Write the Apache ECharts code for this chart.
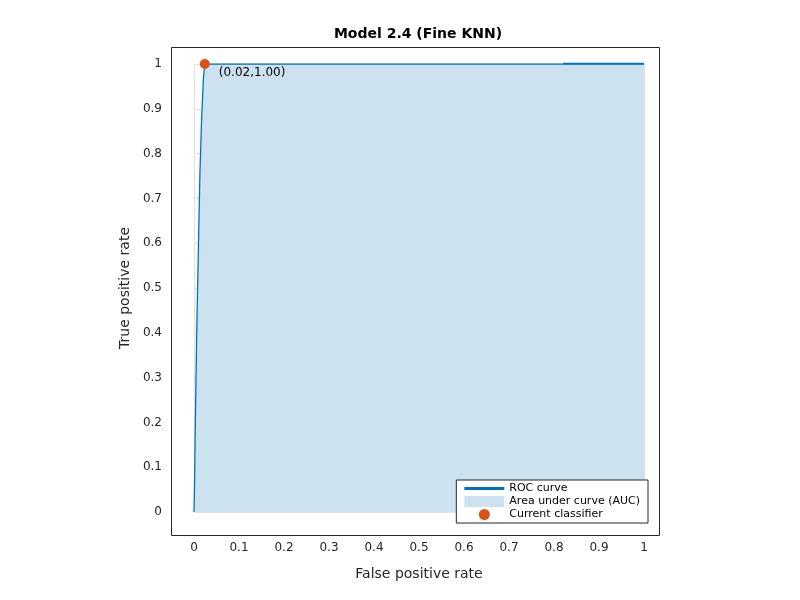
<!DOCTYPE html>
<html>
<head>
<meta charset="utf-8">
<script src="https://cdn.jsdelivr.net/npm/echarts@6/dist/echarts.min.js"></script>
<style>html,body{margin:0;padding:0;background:#fff}#main{width:800px;height:600px}</style>
</head>
<body>
<div id="main"></div>
<script>
var rocX = [0, 0.001, 0.003, 0.006, 0.01, 0.013, 0.017, 0.021, 0.024, 0.3, 0.6, 0.82, 1];
var rocY = [0, 0.05, 0.2, 0.4, 0.6, 0.75, 0.88, 0.97, 1, 1, 1, 1, 1];
var thickX = [0.82, 1];
var thickY = [1.002, 1.002];
var current = [0.024, 1.0];
var ticks = [0, 0.1, 0.2, 0.3, 0.4, 0.5, 0.6, 0.7, 0.8, 0.9, 1];

var pts = rocX.map(function (x, i) { return [x, rocY[i]]; });
var thick = thickX.map(function (x, i) { return [x, thickY[i]]; });

var chart = echarts.init(document.getElementById('main'));
chart.setOption({
    animation: false,
    textStyle: {fontFamily: 'DejaVu Sans'},
    title: {text: 'Model 2.4 (Fine KNN)', left: 413, top: 22, textAlign: 'center',
        textStyle: {fontSize: 14, fontWeight: 'bold', color: '#000'}},
    grid: {left: 194, right: 156, top: 64, bottom: 88},
    xAxis: {type: 'value', min: 0, max: 1, interval: 0.1,
        name: 'False positive rate', nameLocation: 'middle', nameGap: 55,
        nameTextStyle: {fontSize: 14, color: '#262626'},
        axisLine: {show: false}, axisTick: {show: false},
        splitLine: {lineStyle: {color: '#e0e0e0'}},
        axisLabel: {color: '#262626', fontSize: 12, margin: 30}},
    yAxis: {type: 'value', min: 0, max: 1, interval: 0.1,
        name: 'True positive rate', nameLocation: 'middle', nameGap: 62,
        nameTextStyle: {fontSize: 14, color: '#262626'},
        axisLine: {show: false}, axisTick: {show: false},
        splitLine: {lineStyle: {color: '#e0e0e0'}},
        axisLabel: {color: '#262626', fontSize: 12, margin: 32}},
    legend: {orient: 'vertical', right: 152, bottom: 77, backgroundColor: '#fff',
        borderColor: '#262626', borderWidth: 1, borderRadius: 0, padding: [3, 8], itemGap: 2,
        itemWidth: 40, itemHeight: 11,
        textStyle: {fontSize: 11, color: '#000'},
        data: [
            {name: 'ROC curve', icon: 'path://M0,4H40V7H0Z'},
            {name: 'Area under curve (AUC)', icon: 'rect'},
            {name: 'Current classifier', icon: 'circle'}
        ]},
    series: [
        {name: 'Area under curve (AUC)', type: 'line', data: pts, symbol: 'none',
            lineStyle: {width: 0}, itemStyle: {color: '#cce2f0'},
            areaStyle: {color: '#cce2f0', opacity: 1}, z: 1},
        {name: 'ROC curve', type: 'line', data: pts, symbol: 'none',
            lineStyle: {width: 1.3, color: '#0072bd'}, itemStyle: {color: '#0072bd'}, z: 3},
        {name: 'thick', type: 'line', data: thick, symbol: 'none',
            lineStyle: {width: 2.5, color: '#0072bd'}, z: 3},
        {name: 'Current classifier', type: 'scatter', data: [current], symbolSize: 10,
            itemStyle: {color: '#d95319', opacity: 1}, z: 5,
            label: {show: true, position: 'right', offset: [4, 9], fontSize: 12, color: '#000',
                formatter: function (p) { return '(' + p.value[0].toFixed(2) + ',' + p.value[1].toFixed(2) + ')'; }}}
    ],
    graphic: [
        {type: 'rect', left: 169, top: 45, shape: {width: 488, height: 488},
            style: {fill: 'none', stroke: '#262626', lineWidth: 1}, silent: true, z: 0},
        {type: 'text', left: 344, top: 258, style: {text: 'Positive class: Circular', fontSize: 13, fill: '#000', fontFamily: 'DejaVu Sans'}},
        {type: 'text', left: 380, top: 282, style: {text: 'AUC = 0.99', fontSize: 13, fill: '#000', fontFamily: 'DejaVu Sans'}}
    ]
});
</script>
</body>
</html>
